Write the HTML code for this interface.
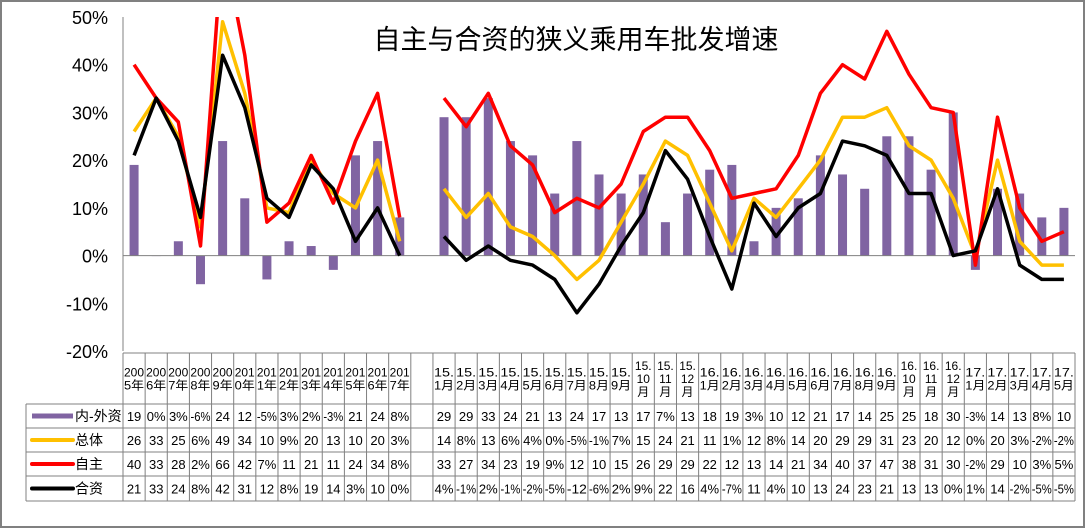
<!DOCTYPE html>
<html><head><meta charset="utf-8">
<style>
html,body{margin:0;padding:0;background:#fff;}
svg{display:block;font-family:"Liberation Sans","Noto Sans CJK SC",sans-serif;}
</style></head>
<body>
<svg id="chart" width="1085" height="528" xmlns="http://www.w3.org/2000/svg"></svg>
<script>
const categories = ["2005年","2006年","2007年","2008年","2009年","2010年","2011年","2012年","2013年","2014年","2015年","2016年","2017年","",
"15.1月","15.2月","15.3月","15.4月","15.5月","15.6月","15.7月","15.8月","15.9月","15.10月","15.11月","15.12月",
"16.1月","16.2月","16.3月","16.4月","16.5月","16.6月","16.7月","16.8月","16.9月","16.10月","16.11月","16.12月",
"17.1月","17.2月","17.3月","17.4月","17.5月"];
const headerLines = [["200","5年"],["200","6年"],["200","7年"],["200","8年"],["200","9年"],["201","0年"],["201","1年"],["201","2年"],["201","3年"],["201","4年"],["201","5年"],["201","6年"],["201","7年"],[],
["15.","1月"],["15.","2月"],["15.","3月"],["15.","4月"],["15.","5月"],["15.","6月"],["15.","7月"],["15.","8月"],["15.","9月"],["15.","10","月"],["15.","11","月"],["15.","12","月"],
["16.","1月"],["16.","2月"],["16.","3月"],["16.","4月"],["16.","5月"],["16.","6月"],["16.","7月"],["16.","8月"],["16.","9月"],["16.","10","月"],["16.","11","月"],["16.","12","月"],
["17.","1月"],["17.","2月"],["17.","3月"],["17.","4月"],["17.","5月"]];
const diffValues = [19,0,3,-6,24,12,-5,3,2,-3,21,24,8,null,29,29,33,24,21,13,24,17,13,17,7,13,18,19,3,10,12,21,17,14,25,25,18,30,-3,14,13,8,10];
const totalValues = [26,33,25,6,49,34,10,9,20,13,10,20,3,null,14,8,13,6,4,0,-5,-1,7,15,24,21,11,1,12,8,14,20,29,29,31,23,20,12,0,20,3,-2,-2];
const domesticValues = [40,33,28,2,66,42,7,11,21,11,24,34,8,null,33,27,34,23,19,9,12,10,15,26,29,29,22,12,13,14,21,34,40,37,47,38,31,30,-2,29,10,3,5];
const jvValues = [21,33,24,8,42,31,12,8,19,14,3,10,0,null,4,-1,2,-1,-2,-5,-12,-6,2,9,22,16,4,-7,11,4,10,13,24,23,21,13,13,0,1,14,-2,-5,-5];
const diffLabels = ["19","0%","3%","-6%","24","12","-5%","3%","2%","-3%","21","24","8%","","29","29","33","24","21","13","24","17","13","17","7%","13","18","19","3%","10","12","21","17","14","25","25","18","30","-3%","14","13","8%","10"];
const totalLabels = ["26","33","25","6%","49","34","10","9%","20","13","10","20","3%","","14","8%","13","6%","4%","0%","-5%","-1%","7%","15","24","21","11","1%","12","8%","14","20","29","29","31","23","20","12","0%","20","3%","-2%","-2%"];
const domesticLabels = ["40","33","28","2%","66","42","7%","11","21","11","24","34","8%","","33","27","34","23","19","9%","12","10","15","26","29","29","22","12","13","14","21","34","40","37","47","38","31","30","-2%","29","10","3%","5%"];
const jvLabels = ["21","33","24","8%","42","31","12","8%","19","14","3%","10","0%","","4%","-1%","2%","-1%","-2%","-5%","-12","-6%","2%","9%","22","16","4%","-7%","11","4%","10","13","24","23","21","13","13","0%","1%","14","-2%","-5%","-5%"];
const yTicks = [50,40,30,20,10,0,-10,-20];

const NS="http://www.w3.org/2000/svg";
const svg=document.getElementById('chart');
function mk(tag,attrs,parent){const e=document.createElementNS(NS,tag);for(const k in attrs)e.setAttribute(k,attrs[k]);(parent||svg).appendChild(e);return e;}
const L=123,R=1075,TOP=17,BOT=351,N=categories.length,W=(R-L)/N;
const yMin=-20,yMax=50;
const y=v=>BOT-(v-yMin)/(yMax-yMin)*(BOT-TOP);
const xc=i=>L+(i+0.5)*W;

let e=mk('rect',{x:1,y:1,width:1083,height:526,fill:'#fff',stroke:'#808080','stroke-width':2});


const defs=mk('defs',{});
const cp=mk('clipPath',{id:'plotclip'},defs);
mk('rect',{x:L,y:TOP,width:R-L,height:BOT-TOP},cp);

e=mk('text',{x:576,y:49,'font-size':27,'text-anchor':'middle',fill:'#000'});
e.textContent='自主与合资的狭义乘用车批发增速';


e=mk('line',{x1:L,y1:TOP,x2:L,y2:BOT,stroke:'#808080','stroke-width':1});

yTicks.forEach(t=>{const tx=mk('text',{x:108,y:y(t)+7,'font-size':18,'text-anchor':'end',fill:'#000'});tx.textContent=t+'%';
});

const bars=mk('g',{});
diffValues.forEach((v,i)=>{if(v===null)return;const b=mk('rect',{x:xc(i)-4.5,y:Math.min(y(v),y(0)),width:9,height:Math.max(Math.abs(y(v)-y(0)),0.5),fill:'#8064A2'},bars);
});

e=mk('line',{x1:L,y1:y(0),x2:R,y2:y(0),stroke:'#808080','stroke-width':1});


function line(vals,color,name){
  const g=mk('g',{'clip-path':'url(#plotclip)'});
  let segs=[],cur=[];
  vals.forEach((v,i)=>{if(v===null){if(cur.length)segs.push(cur);cur=[];}else cur.push(xc(i).toFixed(1)+','+y(v).toFixed(1));});
  if(cur.length)segs.push(cur);
  segs.forEach(s=>{const p=mk('polyline',{points:s.join(' '),fill:'none',stroke:color,'stroke-width':3.5,'stroke-linejoin':'round'},g);
  });
}
line(totalValues,'#FFC000','line-total');
line(domesticValues,'#FF0000','line-domestic');
line(jvValues,'#000000','line-jv');

const rowsY=[353,404,428,452,476,501];
const tg=mk('g',{});
const gs={stroke:'#808080','stroke-width':1};
mk('line',Object.assign({x1:L,y1:rowsY[0],x2:R,y2:rowsY[0]},gs),tg);
for(let r=1;r<rowsY.length;r++)mk('line',Object.assign({x1:26,y1:rowsY[r],x2:R,y2:rowsY[r]},gs),tg);
mk('line',Object.assign({x1:26,y1:rowsY[1],x2:26,y2:rowsY[5]},gs),tg);
for(let i=0;i<=N;i++)mk('line',Object.assign({x1:L+i*W,y1:rowsY[0],x2:L+i*W,y2:rowsY[5]},gs),tg);
headerLines.forEach((ls,i)=>{
  const n=ls.length;if(!n)return;
  const lh=13,start=(rowsY[0]+rowsY[1])/2-(n*lh)/2+11;
  ls.forEach((s,k)=>{const t=mk('text',{x:xc(i),y:start+k*lh,'font-size':12,'text-anchor':'middle',fill:'#000'},tg);
  if(n===2){t.setAttribute('x',L+i*W+1);t.setAttribute('text-anchor','start');t.setAttribute('textLength',20);t.setAttribute('lengthAdjust','spacingAndGlyphs');}
  t.textContent=s;});
});
const rows=[[diffLabels,'#8064A2','内-外资'],[totalLabels,'#FFC000','总体'],[domesticLabels,'#FF0000','自主'],[jvLabels,'#000000','合资']];
rows.forEach((r,ri)=>{
  const cy=(rowsY[ri+1]+rowsY[ri+2])/2;
  const key=mk('line',{x1:32,y1:cy,x2:73,y2:cy,stroke:r[1],'stroke-width':ri===0?5:4,'stroke-linecap':ri===0?'butt':'round'},tg);
  
  const lt=mk('text',{x:75,y:cy+5,'font-size':14,fill:'#000'},tg);lt.textContent=r[2];
  
  r[0].forEach((s,i)=>{if(!s)return;const t=mk('text',{x:xc(i),y:cy+5,'font-size':13,'text-anchor':'middle',fill:'#000'},tg);
  if(s.length>=3){t.setAttribute('textLength',20);t.setAttribute('lengthAdjust','spacingAndGlyphs');}
  t.textContent=s;});
});
</script>
</body></html>
